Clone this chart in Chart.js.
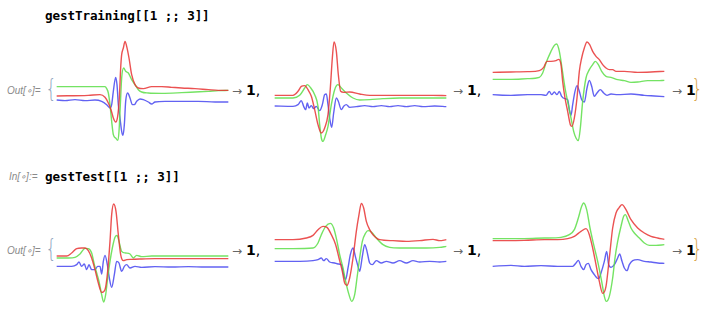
<!DOCTYPE html>
<html lang="en">
<head>
  <meta charset="UTF-8" />
  <title>gestTraining / gestTest</title>
  <script src="https://cdn.jsdelivr.net/npm/chart.js"></script>
  <style>
    body {
      margin: 0;
      width: 705px;
      height: 311px;
      background: #fff;
      position: relative;
      overflow: hidden;
      font-family: "DejaVu Sans", sans-serif;
    }
    .abs { position: absolute; white-space: pre; }
    .code { font-family: "DejaVu Sans Mono", monospace; font-weight: bold; font-size: 12.6px; color: #000; letter-spacing: -0.1px; }
    .lbl { font-family: "Liberation Sans", sans-serif; font-style: italic; font-size: 10px; color: #8a8a8a; }
    .brace { font-family: "DejaVu Sans", sans-serif; font-size: 25px; font-weight: 200; color: #8fa6bf; transform: scaleX(0.7); }
    .rb { color: #d9a54a; }
    .arr { font-size: 14px; color: #000; }
    .arr span { color: #666; font-size: 12px; margin-right: 4px; }
    .arr b { font-weight: 600; }
    canvas { position: absolute; }
  </style>
</head>
<body>
  <div class="abs code" style="left:45px; top:8px;">gestTraining[[1 ;; 3]]</div>
  <div class="abs lbl" style="left:9px; top:171px;">In[∘]:=</div>
  <div class="abs code" style="left:45px; top:169px;">gestTest[[1 ;; 3]]</div>

  <div class="abs lbl" style="left:7px; top:85px;">Out[∘]=</div>
  <div class="abs lbl" style="left:7px; top:245px;">Out[∘]=</div>
  <div class="abs brace" style="left:43px; top:74px;">{</div>
  <div class="abs brace" style="left:43px; top:234px;">{</div>

  <div class="abs arr" style="left:232px; top:82px;"><span>→</span><b>1</b>,</div>
  <div class="abs arr" style="left:453px; top:82px;"><span>→</span><b>1</b>,</div>
  <div class="abs arr" style="left:672px; top:82px;"><span>→</span><b>1</b></div>
  <div class="abs brace rb" style="left:689px; top:74px;">}</div>
  <div class="abs arr" style="left:232px; top:242px;"><span>→</span><b>1</b>,</div>
  <div class="abs arr" style="left:453px; top:242px;"><span>→</span><b>1</b>,</div>
  <div class="abs arr" style="left:672px; top:242px;"><span>→</span><b>1</b></div>
  <div class="abs brace rb" style="left:689px; top:234px;">}</div>

  <canvas id="tr1" width="176" height="108" style="left:55px; top:38px;"></canvas>
  <canvas id="tr2" width="176" height="108" style="left:273px; top:38px;"></canvas>
  <canvas id="tr3" width="176" height="108" style="left:491px; top:38px;"></canvas>
  <canvas id="te1" width="176" height="108" style="left:55px; top:198px;"></canvas>
  <canvas id="te2" width="176" height="108" style="left:273px; top:198px;"></canvas>
  <canvas id="te3" width="176" height="108" style="left:491px; top:198px;"></canvas>

  <script>
    // [sample, amplitude] pairs
    const tr1Red = [[5,-14],[100,-12],[135,-10],[150,-18],[160,-35],[168,-55],[175,-80],[182,-92],[188,-75],[193,-20],[197,70],[200,110],[205,130],[210,150],[215,135],[222,100],[230,50],[240,20],[250,10],[265,8],[290,14],[320,14],[350,12],[380,10],[420,8],[460,5],[490,3],[520,3]];
    const tr1Green = [[5,14],[140,14],[150,14],[155,8],[160,-5],[165,-40],[170,-90],[175,-130],[182,-140],[188,-147],[192,-120],[196,-40],[200,40],[206,70],[212,60],[220,55],[230,35],[240,20],[250,5],[260,-2],[280,-5],[320,-6],[380,-4],[420,-2],[460,0],[490,2],[520,3]];
    const tr1Blue = [[5,-26],[30,-28],[60,-25],[90,-28],[120,-26],[140,-30],[155,-40],[165,-50],[170,-40],[175,0],[182,42],[186,20],[190,-40],[195,-80],[200,-120],[204,-132],[208,-100],[212,-30],[218,-5],[225,-20],[232,-40],[238,-40],[245,-30],[255,-23],[265,-25],[280,-32],[290,-38],[300,-32],[330,-30],[380,-30],[430,-30],[480,-32],[520,-32]];

    const tr2Red = [[5,-12],[60,-12],[75,0],[85,15],[95,17],[105,5],[115,-15],[125,-55],[135,-100],[145,-125],[155,-110],[165,-70],[172,10],[178,100],[183,148],[190,120],[196,50],[203,0],[212,-3],[230,-2],[260,-8],[290,-12],[330,-12],[380,-12],[430,-12],[480,-12],[520,-13]];
    const tr2Green = [[5,-20],[60,-20],[80,-12],[95,10],[103,20],[112,12],[125,-10],[135,-45],[140,-100],[145,-140],[150,-150],[158,-130],[165,-105],[175,-40],[185,5],[195,20],[205,10],[220,-5],[240,-20],[260,-26],[290,-25],[330,-22],[380,-20],[430,-20],[480,-20],[520,-20]];
    const tr2Blue = [[5,-44],[60,-45],[75,-40],[85,-28],[92,-45],[98,-55],[103,-35],[108,-50],[115,-43],[122,-52],[130,-45],[140,-58],[148,-40],[155,-10],[160,-8],[165,-40],[170,-80],[176,-108],[182,-65],[190,-20],[196,-30],[205,-55],[212,-45],[220,-40],[230,-48],[250,-46],[275,-43],[300,-46],[325,-43],[350,-46],[375,-43],[400,-46],[425,-43],[450,-46],[485,-44],[520,-46]];

    const tr3Red = [[5,57],[60,58],[110,59],[145,62],[158,72],[168,90],[180,90],[195,92],[203,96],[210,80],[215,30],[222,-20],[230,-60],[238,-100],[243,-105],[250,-80],[258,-20],[265,60],[272,100],[280,130],[288,148],[296,140],[305,120],[315,105],[325,95],[335,80],[345,70],[355,65],[365,65],[375,60],[400,60],[440,57],[480,58],[520,60]];
    const tr3Green = [[5,36],[60,36],[110,38],[145,42],[155,55],[165,85],[180,120],[190,138],[197,142],[205,120],[213,70],[222,10],[232,-40],[240,-80],[248,-120],[255,-140],[262,-148],[268,-110],[275,-30],[285,40],[295,65],[305,80],[313,90],[322,80],[332,60],[345,45],[360,42],[380,35],[400,32],[420,27],[440,28],[470,32],[500,32],[520,33]];
    const tr3Blue = [[5,-10],[60,-12],[110,-10],[150,-10],[165,-12],[175,0],[182,-10],[190,-2],[198,-10],[205,0],[212,-15],[222,-22],[230,-25],[235,-55],[240,-72],[245,-40],[252,0],[258,17],[265,0],[272,-25],[280,-32],[288,10],[295,33],[302,15],[310,-15],[318,-5],[328,5],[338,-5],[348,-12],[360,-8],[380,-10],[420,-8],[460,-12],[490,-14],[520,-16]];

    const te1Red = [[5,-14],[35,-14],[50,-5],[65,8],[80,10],[90,10],[100,2],[110,-20],[120,-55],[130,-95],[140,-123],[150,-115],[158,-60],[165,30],[170,110],[176,142],[183,120],[190,50],[197,-10],[205,-28],[215,-25],[230,-24],[260,-23],[300,-22],[350,-22],[400,-22],[450,-22],[520,-22]];
    const te1Green = [[5,-20],[40,-20],[60,-18],[75,-8],[90,9],[100,8],[110,-5],[118,-40],[125,-65],[132,-90],[140,-130],[146,-152],[152,-130],[158,-80],[165,-30],[172,10],[180,42],[186,48],[192,30],[200,0],[212,-5],[225,-8],[235,-20],[245,-12],[260,-16],[290,-14],[330,-14],[380,-14],[430,-14],[520,-14]];
    const te1Blue = [[5,-45],[50,-45],[65,-40],[72,-32],[80,-45],[88,-38],[95,-55],[102,-40],[110,-55],[120,-55],[128,-45],[135,-45],[140,-68],[145,-30],[150,-12],[157,-40],[163,-80],[170,-108],[178,-70],[185,-30],[192,-35],[200,-60],[208,-45],[215,-40],[225,-50],[240,-45],[260,-48],[300,-46],[350,-47],[400,-46],[450,-47],[520,-47]];

    const te2Red = [[5,35],[60,35],[100,40],[120,48],[135,65],[150,75],[162,72],[175,50],[188,20],[198,-20],[208,-60],[215,-95],[222,-102],[230,-80],[240,-20],[250,60],[258,110],[265,144],[272,130],[280,90],[290,65],[300,50],[320,35],[360,32],[400,30],[440,32],[480,36],[500,32],[520,35]];
    const te2Green = [[5,8],[60,8],[120,10],[135,25],[145,50],[158,75],[172,84],[182,70],[192,30],[200,-10],[210,-50],[218,-90],[228,-130],[236,-150],[245,-130],[252,-80],[260,-20],[268,30],[278,55],[285,62],[295,58],[310,40],[330,20],[350,12],[380,10],[420,10],[460,10],[500,12],[520,15]];
    const te2Blue = [[5,-30],[80,-30],[120,-28],[135,-25],[145,-20],[152,-28],[160,-22],[170,-32],[185,-35],[195,-38],[205,-40],[212,-70],[218,-85],[225,-50],[232,-10],[240,10],[247,-15],[255,-45],[260,-60],[268,-15],[275,20],[282,0],[290,-35],[298,-40],[310,-28],[325,-35],[340,-30],[360,-35],[380,-28],[400,-35],[420,-28],[440,-32],[470,-30],[500,-32],[520,-30]];

    const te3Red = [[5,32],[100,33],[160,35],[200,35],[230,38],[250,45],[270,60],[285,68],[295,50],[305,10],[315,-40],[325,-90],[335,-126],[345,-105],[355,-20],[365,70],[375,115],[385,132],[393,140],[405,125],[420,95],[440,70],[460,55],[480,45],[500,40],[520,36]];
    const te3Green = [[5,38],[100,38],[160,40],[210,42],[235,50],[250,65],[262,100],[272,135],[278,145],[287,125],[297,70],[308,20],[320,-30],[332,-90],[340,-135],[346,-150],[355,-135],[365,-80],[372,-20],[380,30],[390,75],[398,105],[403,110],[412,90],[420,70],[430,55],[445,40],[460,25],[475,18],[495,18],[520,20]];
    const te3Blue = [[5,-45],[60,-42],[100,-45],[150,-43],[200,-45],[245,-45],[255,-35],[262,-27],[270,-45],[278,-55],[285,-40],[292,-36],[300,-55],[310,-70],[318,-80],[323,-82],[330,-65],[340,-30],[347,0],[353,-40],[360,-48],[370,-40],[380,-20],[386,-8],[393,-30],[400,-50],[408,-58],[415,-40],[425,-28],[440,-25],[460,-30],[480,-32],[500,-35],[520,-36]];

    const red = 'rgba(232,52,52,0.85)';
    const green = 'rgba(92,222,72,0.85)';
    const blue = 'rgba(70,70,240,0.85)';

    function serie(pts, color) {
      return {
        data: pts.map(p => ({ x: p[0], y: p[1] })),
        borderColor: color,
        borderWidth: 1.4,
        pointRadius: 0,
        fill: false,
        cubicInterpolationMode: 'monotone'
      };
    }

    function desenhar(id, r, g, b) {
      new Chart(document.getElementById(id), {
        type: 'line',
        data: { datasets: [serie(r, red), serie(g, green), serie(b, blue)] },
        options: {
          responsive: false,
          animation: false,
          layout: { padding: 0 },
          plugins: { legend: { display: false }, tooltip: { enabled: false } },
          scales: {
            x: { type: 'linear', min: 0, max: 528, display: false },
            y: { min: -164, max: 160, display: false }
          }
        }
      });
    }

    desenhar('tr1', tr1Red, tr1Green, tr1Blue);
    desenhar('tr2', tr2Red, tr2Green, tr2Blue);
    desenhar('tr3', tr3Red, tr3Green, tr3Blue);
    desenhar('te1', te1Red, te1Green, te1Blue);
    desenhar('te2', te2Red, te2Green, te2Blue);
    desenhar('te3', te3Red, te3Green, te3Blue);
  </script>
</body>
</html>
